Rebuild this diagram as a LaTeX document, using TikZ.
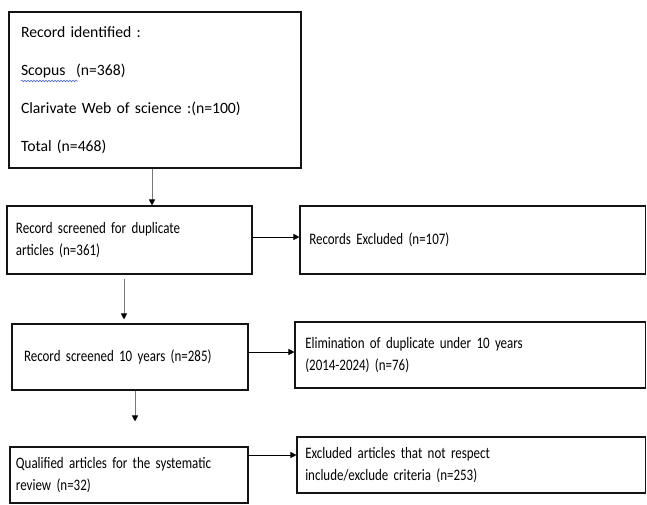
\documentclass[tikz,border=0pt]{standalone}
\usepackage{fontspec}
\setmainfont{Carlito}[WordSpace=0.8]
\newfontfamily\narrowfont{Carlito}[FakeStretch=0.81,WordSpace=0.75]
\usepackage{tikz}
\usetikzlibrary{arrows.meta,positioning,calc,decorations.pathmorphing}
\definecolor{pline}{RGB}{20,20,20}
\definecolor{parrow}{RGB}{120,120,120}
\definecolor{pspell}{RGB}{60,90,200}
\tikzset{
  box/.style={rectangle,draw=pline,line width=1.1pt,fill=white,
              font=\narrowfont\fontsize{16}{22}\selectfont,align=left,inner ysep=0pt},
  widebox/.style={box,font=\fontsize{15.7}{22}\selectfont},
  varrow/.style={-{Triangle[length=6pt,width=6pt,color=black]},parrow,line width=0.7pt},
  harrow/.style={-{Triangle[length=6pt,width=6pt]},black,line width=0.7pt},
  spell/.style={pspell,line width=0.5pt,decorate,
                decoration={snake,amplitude=0.8pt,segment length=3pt}},
}
\begin{document}
\begin{tikzpicture}[x=1pt,y=-1pt]
  \useasboundingbox (0,0) rectangle (647,504);
  % left column
  \node[widebox,minimum width=292pt,minimum height=156pt,text width=268pt,inner xsep=12pt]
    (ident) at (155,90) {Record identified :\\[16pt]Scopus\ \ (n=368)\\[16pt]%
      Clarivate Web of science :(n=100)\\[16pt]Total (n=468)};
  \node[box,minimum width=245pt,minimum height=68pt,text width=227pt,inner xsep=9pt]
    (dup) at (129.5,240) {Record screened for duplicate\\articles (n=361)};
  \node[box,minimum width=236pt,minimum height=66pt,text width=212pt,inner xsep=12pt]
    (ten) at (130,357) {Record screened 10 years (n=285)};
  \node[box,minimum width=238pt,minimum height=56pt,text width=226pt,inner xsep=6pt]
    (qual) at (129,475) {Qualified articles for the systematic\\review (n=32)};
  % right column
  \node[box,minimum width=345.5pt,minimum height=68pt,text width=327pt,inner xsep=9pt]
    (excl) at (472.75,240) {Records Excluded (n=107)};
  \node[box,minimum width=350.5pt,minimum height=66pt,text width=330pt,inner xsep=10pt]
    (elim) at (470.25,355) {Elimination of duplicate under 10 years\\(2014-2024) (n=76)};
  \node[box,minimum width=348.5pt,minimum height=56pt,text width=332pt,inner xsep=8pt]
    (crit) at (471.25,465) {Excluded articles that not respect\\include/exclude criteria (n=253)\\[-8pt]};
  % spell-check mark under Scopus
  \draw[spell] (21,81) -- (78,81);
  % downward flow
  \draw[varrow] ([xshift=-3pt]ident.south) -- ([xshift=-3pt]ident.south |- dup.north);
  \draw[varrow,shorten <=4pt,shorten >=4pt] ([xshift=-5.5pt]dup.south) -- ([xshift=-5.5pt]dup.south |- ten.north);
  \draw[varrow,shorten >=25pt] ([xshift=5pt]ten.south) -- ([xshift=5pt]ten.south |- qual.north);
  % side exits
  \draw[harrow] ([yshift=3pt]dup.east) -- ([yshift=3pt]dup.east -| excl.west);
  \draw[harrow] ([yshift=5pt]ten.east) -- ([yshift=5pt]ten.east -| elim.west);
  \draw[harrow] ([yshift=20pt]qual.east) -- ([yshift=20pt]qual.east -| crit.west);
\end{tikzpicture}
\end{document}
